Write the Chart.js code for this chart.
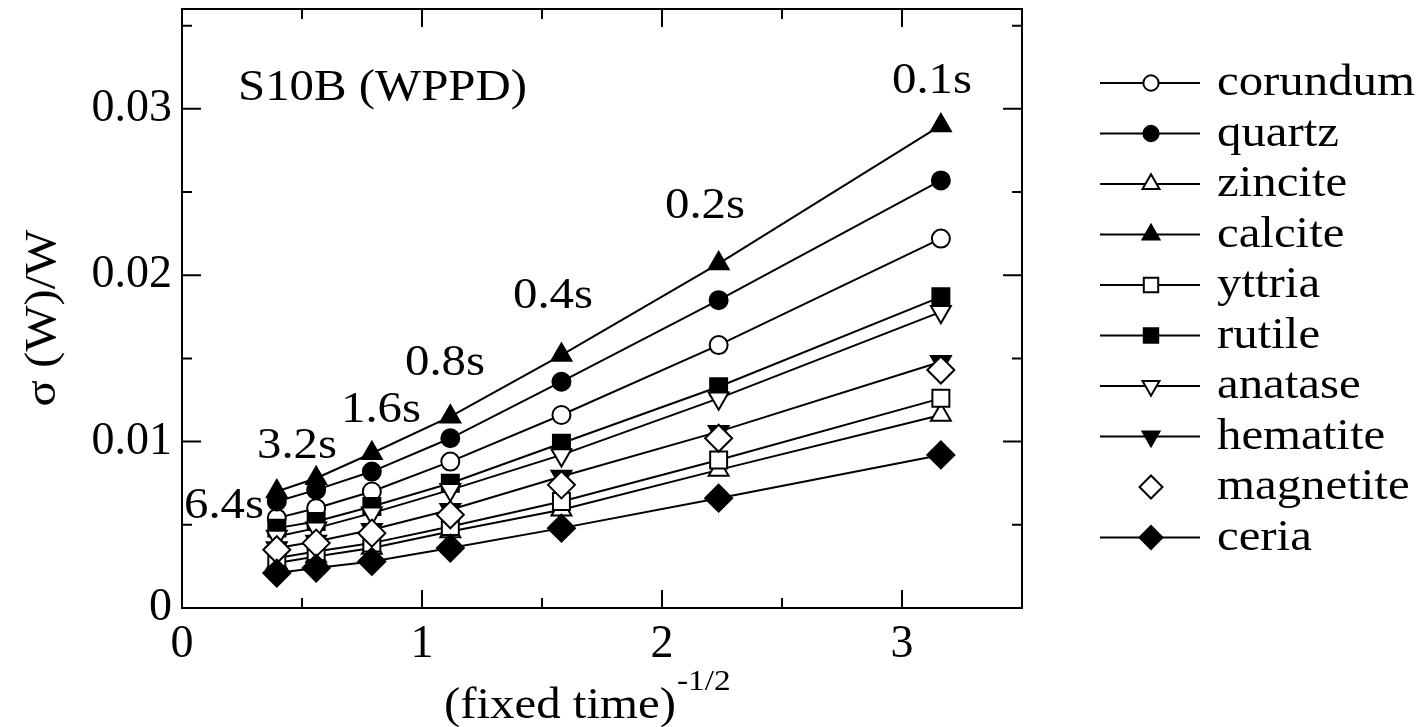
<!DOCTYPE html>
<html>
<head>
<meta charset="utf-8">
<script src="https://cdn.jsdelivr.net/npm/chart.js@4.4.0/dist/chart.umd.min.js"></script>
<style>
html,body{margin:0;padding:0;background:#fff;}
#wrap{width:1424px;height:727px;position:relative;}
</style>
</head>
<body>
<div id="wrap"><canvas id="c" width="1424" height="727"></canvas></div>
<script>
// ---- data ----
const fixedTimeLabels = ['6.4s','3.2s','1.6s','0.8s','0.4s','0.2s','0.1s'];
const xValues   = [0.395, 0.559, 0.791, 1.118, 1.581, 2.236, 3.162]; // (fixed time)^-1/2
const corundum  = [0.0054, 0.0060, 0.0070, 0.0088, 0.0116, 0.0158, 0.0222];
const quartz    = [0.0064, 0.0071, 0.0082, 0.0102, 0.0136, 0.0185, 0.0257];
const zincite   = [0.0027, 0.0031, 0.0036, 0.0046, 0.0059, 0.0083, 0.0116];
const calcite   = [0.0070, 0.0078, 0.0093, 0.0115, 0.0152, 0.0207, 0.0290];
const yttria    = [0.0030, 0.0034, 0.0039, 0.0049, 0.0064, 0.0089, 0.0126];
const rutile    = [0.0048, 0.0052, 0.0061, 0.0075, 0.0099, 0.0133, 0.0187];
const anatase   = [0.0043, 0.0048, 0.0057, 0.0071, 0.0092, 0.0126, 0.0178];
const hematite  = [0.0036, 0.0040, 0.0047, 0.0059, 0.0079, 0.0106, 0.0148];
const magnetite = [0.0035, 0.0039, 0.0045, 0.0056, 0.0074, 0.0102, 0.0143];
const ceria     = [0.0021, 0.0024, 0.0028, 0.0036, 0.0048, 0.0066, 0.0092];
const seriesNames = ['corundum','quartz','zincite','calcite','yttria','rutile','anatase','hematite','magnetite','ceria'];
const seriesValues = [corundum, quartz, zincite, calcite, yttria, rutile, anatase, hematite, magnetite, ceria];
const xTickLabels = ['0','1','2','3'];
const yTickLabels = ['0','0.01','0.02','0.03'];
const panelTitle = 'S10B (WPPD)';
const xTitle = '(fixed time)';
const xTitleSup = '-1/2';
const yTitle = '\u03C3 (W)/W';

// ---- styles ----
const FONT = '"Liberation Serif", "Times New Roman", serif';
const STRETCH = 1.11;
const markerStyles = [
  {style:'circle',   fill:false, r:9,    rot:0,   line:true},
  {style:'circle',   fill:true,  r:9,    rot:0,   line:true},
  {style:'triangle', fill:false, r:11.5, rot:0,   line:true},
  {style:'triangle', fill:true,  r:11.5, rot:0,   line:true},
  {style:'rect',     fill:false, r:12,   rot:0,   line:true},
  {style:'rect',     fill:true,  r:12,   rot:0,   line:true},
  {style:'triangle', fill:false, r:11.5, rot:180, line:true},
  {style:'triangle', fill:true,  r:11.5, rot:180, line:true},
  {style:'rectRot',  fill:false, r:13.5, rot:0,   line:false},
  {style:'rectRot',  fill:true,  r:13.5, rot:0,   line:true}
];
// label placement (pixels): centre x and baseline y of each time label
const timeLabelPos = [
  {cx:224, by:518}, {cx:297, by:458}, {cx:381, by:422}, {cx:445, by:375},
  {cx:553, by:308}, {cx:705, by:218}, {cx:932, by:93}
];

function sText(ctx, str, x, y, size, align){
  ctx.save();
  ctx.font = size + 'px ' + FONT;
  ctx.textBaseline = 'alphabetic';
  ctx.textAlign = 'left';
  ctx.fillStyle = '#000';
  const w = ctx.measureText(str).width * STRETCH;
  const left = align === 'center' ? x - w/2 : (align === 'right' ? x - w : x);
  ctx.translate(left, y);
  ctx.scale(STRETCH, 1);
  ctx.fillText(str, 0, 0);
  ctx.restore();
  return w;
}

function drawMarker(ctx, m, x, y, k){
  const r = m.r * k;
  ctx.beginPath();
  if (m.style === 'circle') {
    ctx.arc(x, y, r, 0, 2*Math.PI);
  } else if (m.style === 'triangle') {
    const base = m.rot * Math.PI / 180;
    for (let i = 0; i < 3; i++) {
      const a = base + i * 2*Math.PI/3;
      const px = x + Math.sin(a)*r, py = y - Math.cos(a)*r;
      if (i) ctx.lineTo(px, py); else ctx.moveTo(px, py);
    }
    ctx.closePath();
  } else if (m.style === 'rect') {
    const s = r * Math.SQRT1_2;
    ctx.rect(x - s, y - s, 2*s, 2*s);
  } else {
    ctx.moveTo(x, y - r); ctx.lineTo(x + r, y); ctx.lineTo(x, y + r); ctx.lineTo(x - r, y); ctx.closePath();
  }
  ctx.fillStyle = m.fill ? '#000' : '#fff';
  ctx.fill();
  ctx.lineWidth = 2;
  ctx.strokeStyle = '#000';
  ctx.stroke();
}

const datasets = seriesNames.map((name, i) => {
  const m = markerStyles[i];
  return {
    label: name,
    order: -i,
    data: xValues.map((xv, j) => ({x: xv, y: seriesValues[i][j]})),
    showLine: m.line,
    borderColor: '#000',
    borderWidth: 2,
    tension: 0,
    pointStyle: m.style,
    pointRotation: m.rot,
    pointRadius: m.r,
    pointHoverRadius: m.r,
    pointBorderWidth: 2,
    pointBorderColor: '#000',
    pointBackgroundColor: m.fill ? '#000' : '#fff'
  };
});

const framePlugin = {
  id: 'frame',
  beforeDatasetsDraw(chart){
    const {ctx, chartArea:a, scales:{x, y}} = chart;
    ctx.save();
    ctx.strokeStyle = '#000';
    ctx.lineWidth = 2;
    ctx.strokeRect(a.left, a.top, a.right - a.left, a.bottom - a.top);
    ctx.beginPath();
    for (let k = 1; k <= 6; k++) {
      const v = k * 0.5;
      const px = x.getPixelForValue(v);
      const L = (k % 2 === 0) ? 18 : 10;
      ctx.moveTo(px, a.bottom); ctx.lineTo(px, a.bottom - L);
      ctx.moveTo(px, a.top); ctx.lineTo(px, a.top + L);
    }
    for (let k = 1; k <= 7; k++) {
      const v = k * 0.005;
      const py = y.getPixelForValue(v);
      const L = (k % 2 === 0) ? 19 : 10;
      ctx.moveTo(a.left, py); ctx.lineTo(a.left + L, py);
      ctx.moveTo(a.right, py); ctx.lineTo(a.right - L, py);
    }
    ctx.stroke();
    ctx.restore();
  },
  afterDraw(chart){
    const {ctx} = chart;
    sText(ctx, panelTitle, 238, 100, 44, 'left');
    fixedTimeLabels.forEach((t, i) => {
      sText(ctx, t, timeLabelPos[i].cx, timeLabelPos[i].by, 44, 'center');
    });
    const w = sText(ctx, xTitle, 444, 718, 44, 'left');
    sText(ctx, xTitleSup, 444 + w + 1, 690, 30, 'left');
    ctx.save();
    ctx.translate(55, 318);
    ctx.rotate(-Math.PI/2);
    sText(ctx, yTitle, 0, 0, 44, 'center');
    ctx.restore();
    seriesNames.forEach((name, i) => {
      const m = markerStyles[i];
      const ry = 83 + i * 50.5;
      ctx.save();
      if (m.line) {
        ctx.beginPath();
        ctx.moveTo(1100, ry); ctx.lineTo(1200, ry);
        ctx.lineWidth = 2; ctx.strokeStyle = '#000'; ctx.stroke();
      }
      drawMarker(ctx, m, 1151, ry, 0.85);
      ctx.restore();
      sText(ctx, name, 1217, ry + 12, 44, 'left');
    });
  }
};

new Chart(document.getElementById('c'), {
  type: 'scatter',
  data: { datasets },
  options: {
    responsive: false,
    animation: false,
    events: [],
    layout: { padding: {left: 0, right: 402, top: 9, bottom: 0}, autoPadding: false },
    plugins: { legend: {display: false}, tooltip: {enabled: false}, title: {display: false} },
    scales: {
      x: {
        type: 'linear', min: 0, max: 3.5,
        grid: {display: false, drawTicks: false},
        border: {display: false},
        ticks: {
          stepSize: 0.5, padding: 9, color: '#000', maxRotation: 0, autoSkip: false,
          font: {family: FONT, size: 46},
          callback: (v) => {
            const idx = xTickLabels.indexOf(String(v));
            return idx >= 0 ? xTickLabels[idx] : '';
          }
        },
        afterFit: (s) => { s.height = 119; s.paddingLeft = 0; s.paddingRight = 0; s.paddingTop = 0; s.paddingBottom = 0; }
      },
      y: {
        type: 'linear', min: 0, max: 0.036,
        grid: {display: false, drawTicks: false},
        border: {display: false},
        ticks: {
          stepSize: 0.005, padding: 10, color: '#000', autoSkip: false,
          font: {family: FONT, size: 46},
          callback: (v) => {
            const k = Math.round(v / 0.01);
            if (Math.abs(v - k*0.01) < 1e-9 && k < yTickLabels.length) return yTickLabels[k];
            return '';
          }
        },
        afterFit: (s) => { s.width = 182; s.paddingLeft = 0; s.paddingRight = 0; s.paddingTop = 0; s.paddingBottom = 0; }
      }
    }
  },
  plugins: [framePlugin]
});
</script>
</body>
</html>
